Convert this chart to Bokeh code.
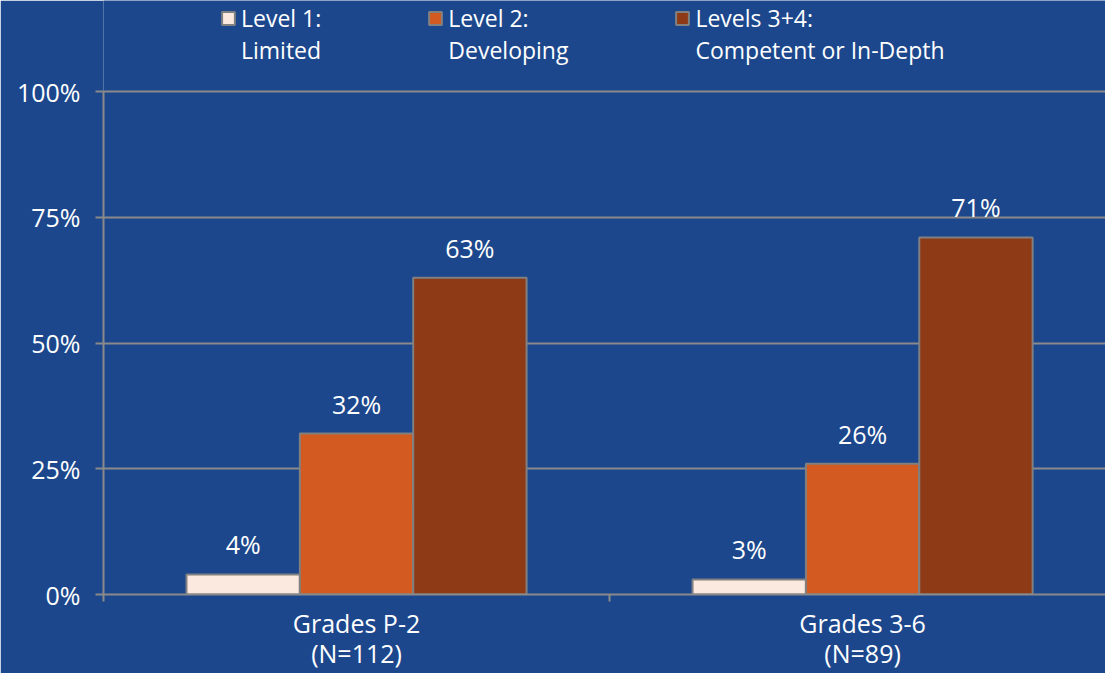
from bokeh.plotting import figure
from bokeh.models import (ColumnDataSource, Range1d, FixedTicker, PrintfTickFormatter,
                          LabelSet, Legend, LegendItem)
from bokeh.core.properties import value
from bokeh.embed import file_html
from bokeh.resources import INLINE

categories = ["Grades P-2\n(N=112)", "Grades 3-6\n(N=89)"]
series_names = ["Level 1:\nLimited", "Level 2:\nDeveloping", "Levels 3+4:\nCompetent or In-Depth"]
level1 = [4, 3]
level2 = [32, 26]
level34 = [63, 71]
y_ticks = [0, 25, 50, 75, 100]

series_values = [level1, level2, level34]
colors = ["#FBE9E0", "#D35B21", "#8E3A17"]
BG = "#1C478C"
GRID = "#8A8A8A"
FONT = "Open Sans"

p = figure(width=1105, height=673, output_backend="svg", toolbar_location=None,
           x_range=Range1d(0, 1.98), y_range=Range1d(0, 118.1),
           min_border_left=103, min_border_right=0, min_border_top=0, min_border_bottom=77)
p.background_fill_color = BG
p.border_fill_color = BG
p.outline_line_color = None

bar_w = 0.224
renderers = []
for j, (name, vals, col) in enumerate(zip(series_names, series_values, colors)):
    xs = [i + 0.5 + (j - 1) * bar_w for i in range(len(categories))]
    src = ColumnDataSource(dict(x=xs, top=vals, lab=[f"{v}%" for v in vals]))
    r = p.vbar(x="x", top="top", bottom=0, width=bar_w, source=src,
               fill_color=col, line_color="#808080", line_width=2)
    renderers.append((name, r))
    p.add_layout(LabelSet(x="x", y="top", text="lab", source=src, text_align="center",
                          text_baseline="bottom", y_offset=13, text_color="white",
                          text_font=value(FONT), text_font_size="25px"))

# axes
p.yaxis.ticker = FixedTicker(ticks=y_ticks)
p.yaxis.formatter = PrintfTickFormatter(format="%d%%")
p.yaxis.bounds = (0, 100)
p.yaxis.axis_line_color = GRID
p.yaxis.axis_line_width = 2
p.yaxis.major_tick_line_color = GRID
p.yaxis.major_tick_line_width = 2
p.yaxis.major_tick_out = 8
p.yaxis.major_tick_in = 0
p.yaxis.minor_tick_line_color = None
p.yaxis.major_label_standoff = 15
p.yaxis.major_label_text_color = "white"
p.yaxis.major_label_text_font = FONT
p.yaxis.major_label_text_font_size = "25px"

p.xaxis.ticker = FixedTicker(ticks=[i + 0.5 for i in range(len(categories))],
                             minor_ticks=list(range(len(categories) + 1)))
p.xaxis.major_label_overrides = {i + 0.5: c for i, c in enumerate(categories)}
p.xaxis.axis_line_color = GRID
p.xaxis.axis_line_width = 2
p.xaxis.major_tick_line_color = None
p.xaxis.major_tick_out = 0
p.xaxis.major_tick_in = 0
p.xaxis.minor_tick_line_color = GRID
p.xaxis.minor_tick_line_width = 2
p.xaxis.minor_tick_out = 7
p.xaxis.minor_tick_in = 0
p.xaxis.major_label_standoff = 4
p.xaxis.major_label_text_color = "white"
p.xaxis.major_label_text_font = FONT
p.xaxis.major_label_text_font_size = "25px"
p.xaxis.major_label_text_line_height = 0.9

p.xgrid.grid_line_color = None
p.ygrid.grid_line_color = GRID
p.ygrid.grid_line_width = 2

# a leading blank line centres each legend swatch on the first text line
legend = Legend(items=[LegendItem(label="\n" + n, renderers=[r]) for n, r in renderers],
                orientation="horizontal", location=(117, 528),
                background_fill_alpha=0, border_line_color=None,
                label_text_color="white", label_text_font=FONT, label_text_font_size="23px",
                label_text_line_height=0.87,
                glyph_width=16, glyph_height=16, label_standoff=5, spacing=106,
                padding=0, margin=0)
p.add_layout(legend, "center")

open("out.html", "w").write(file_html(p, INLINE))
